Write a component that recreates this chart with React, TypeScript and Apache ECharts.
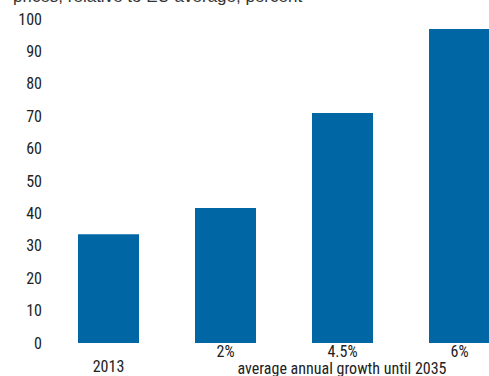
import React, { useEffect, useRef } from "react";
import * as echarts from "echarts";

const categories = ["2013", "2%", "4.5%", "6%"];
const values = [33.6, 41.7, 71, 96.9];
const yTicks = { min: 0, max: 100, interval: 10 };
const titleText = "prices, relative to EU average, percent";
const axisNote = "average annual growth until 2035";

const condensed = '"Roboto Condensed", "DejaVu Sans Condensed", sans-serif';

export default function App() {
  const ref = useRef<HTMLDivElement>(null);
  useEffect(() => {
    if (!ref.current) return;
    const chart = echarts.init(ref.current, undefined, { renderer: "svg" });
    chart.setOption({
      animation: false,
      grid: { left: 50, top: 19, width: 468, height: 324, outerBoundsMode: "none" },
      xAxis: {
        type: "category",
        data: categories,
        axisLine: { show: false },
        axisTick: { show: false },
        axisLabel: {
          interval: 0,
          margin: 1,
          color: "#222",
          fontFamily: condensed,
          fontSize: 16,
          lineHeight: 15,
          formatter: (v: string, i: number) => (i === 0 ? "\n" + v : v),
        },
      },
      yAxis: {
        type: "value",
        min: yTicks.min,
        max: yTicks.max,
        interval: yTicks.interval,
        axisLine: { show: false },
        axisTick: { show: false },
        splitLine: { show: false },
        axisLabel: {
          margin: 8,
          color: "#222",
          fontFamily: condensed,
          fontSize: 16,
        },
      },
      series: [
        {
          type: "bar",
          data: values,
          barWidth: 61,
          itemStyle: { color: "#0066a4" },
        },
      ],
      graphic: [
        {
          type: "text",
          left: 13,
          top: -12,
          style: {
            text: titleText,
            fill: "#333",
            fontFamily: '"Liberation Sans", Arial, sans-serif',
            fontSize: 17,
          },
        },
        {
          type: "text",
          x: 342,
          y: 368,
          style: {
            text: axisNote,
            fill: "#222",
            fontFamily: condensed,
            fontSize: 16,
            align: "center",
            verticalAlign: "middle",
          },
        },
      ],
    });
    return () => chart.dispose();
  }, []);
  return (
    <div
      ref={ref}
      style={{ position: "fixed", left: 0, top: 0, width: 489, height: 376, background: "#fff" }}
    />
  );
}
